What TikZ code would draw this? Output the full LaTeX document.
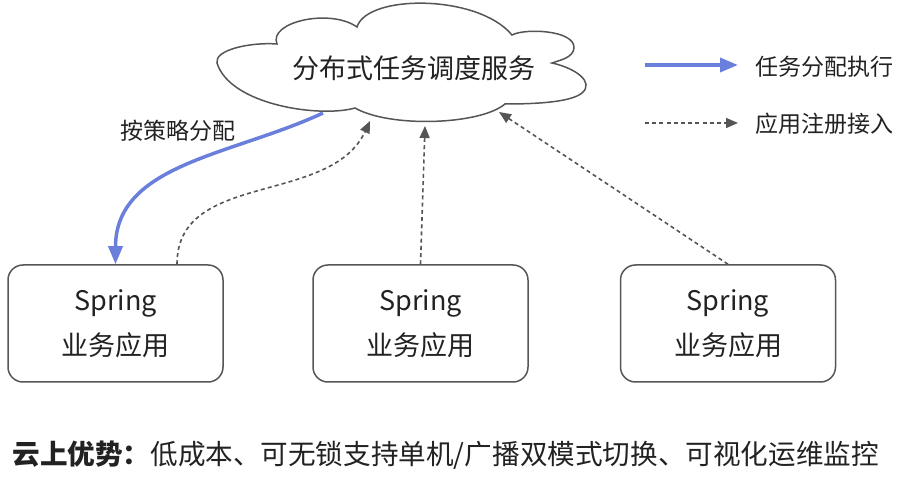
\documentclass[tikz,border=0pt]{standalone}
\usepackage{fontspec}
\setmainfont{Noto Sans CJK SC}
\usetikzlibrary{arrows.meta}

\definecolor{taskblue}{RGB}{106,127,219}
\definecolor{linegray}{RGB}{85,85,85}
\definecolor{textdark}{RGB}{34,34,34}

\begin{document}
\begin{tikzpicture}[x=0.5pt, y=-0.5pt,
	appbox/.style={draw=linegray, line width=0.75pt, rounded corners=7.5pt, minimum width=107.5pt, minimum height=58.5pt, align=center, text=textdark, font=\fontsize{13.5}{22.5}\selectfont},
	legendtext/.style={anchor=west, inner sep=0pt, text=textdark, font=\fontsize{11.5}{14}\selectfont},
	assign/.style={draw=taskblue, line width=1.75pt, -{Triangle[length=9pt,width=7pt]}},
	register/.style={draw=linegray, line width=0.8pt, dash pattern=on 2pt off 1.6pt, -{Triangle[length=6pt,width=5pt]}}
	]
	
	\useasboundingbox (0,0) rectangle (915,491);
	
	%% SCHEDULER
	% Cloud outline
	\draw[linegray, line width=0.75pt] (217,63)
		.. controls (214,50) and (250,42) .. (277,44)
		.. controls (268,22) and (330,8) .. (357,27)
		.. controls (367,-6) and (478,-6) .. (512,35)
		.. controls (525,28) and (575,30) .. (574,48)
		.. controls (573,58) and (560,60) .. (552,63)
		.. controls (575,68) and (595,82) .. (582,93)
		.. controls (570,103) and (530,104) .. (505,104)
		.. controls (480,125) and (390,128) .. (355,108)
		.. controls (320,118) and (230,105) .. (217,63) -- cycle;
	% Name
	\node[text=textdark, font=\fontsize{13.5}{16}\selectfont] (cloud) at (414,68) {分布式任务调度服务};
	
	%% APPS
	% Boxes
	\foreach \x/\n in {115.5/1, 420.5/2, 728/3}
	{
		\node[appbox] (box\n) at (\x,323.5) {Spring\\业务应用};
	}
	
	%% CONNECTORS
	% Task assignment
	\draw[assign] ([xshift=-45.5pt,yshift=-22.5pt]cloud.center) to[out=205, in=90] (box1.north);
	\node[text=textdark, font=\fontsize{11.5}{14}\selectfont] (strategy) at (178,131) {按策略分配};
	
	% Registration
	\draw[register] ([xshift=30.75pt]box1.north) to[out=90, in=245] ([xshift=-22pt,yshift=-26.5pt]cloud.center);
	\draw[register] (box2.north) -- ([xshift=5.5pt,yshift=-29pt]cloud.center);
	\draw[register] (box3.north) -- ([xshift=42.5pt,yshift=-22pt]cloud.center);
	
	%% LEGEND
	\coordinate (assignstart) at (645,65);
	\coordinate (assignend) at (738,65);
	\node[legendtext] (assignlabel) at (755,67) {任务分配执行};
	\draw[assign] (assignstart) -- (assignend);
	
	\coordinate (registerstart) at (645,123);
	\coordinate (registerend) at (738,123);
	\node[legendtext] (registerlabel) at (755,124) {应用注册接入};
	\draw[register] (registerstart) -- (registerend);
	
	%% ADVANTAGE
	\node[anchor=west, inner sep=0pt, text=textdark, font=\fontsize{13.8}{17}\selectfont] (advantage) at (12,455) {\textbf{云上优势：}低成本、可无锁支持单机/广播双模式切换、可视化运维监控};
	
\end{tikzpicture}
\end{document}
